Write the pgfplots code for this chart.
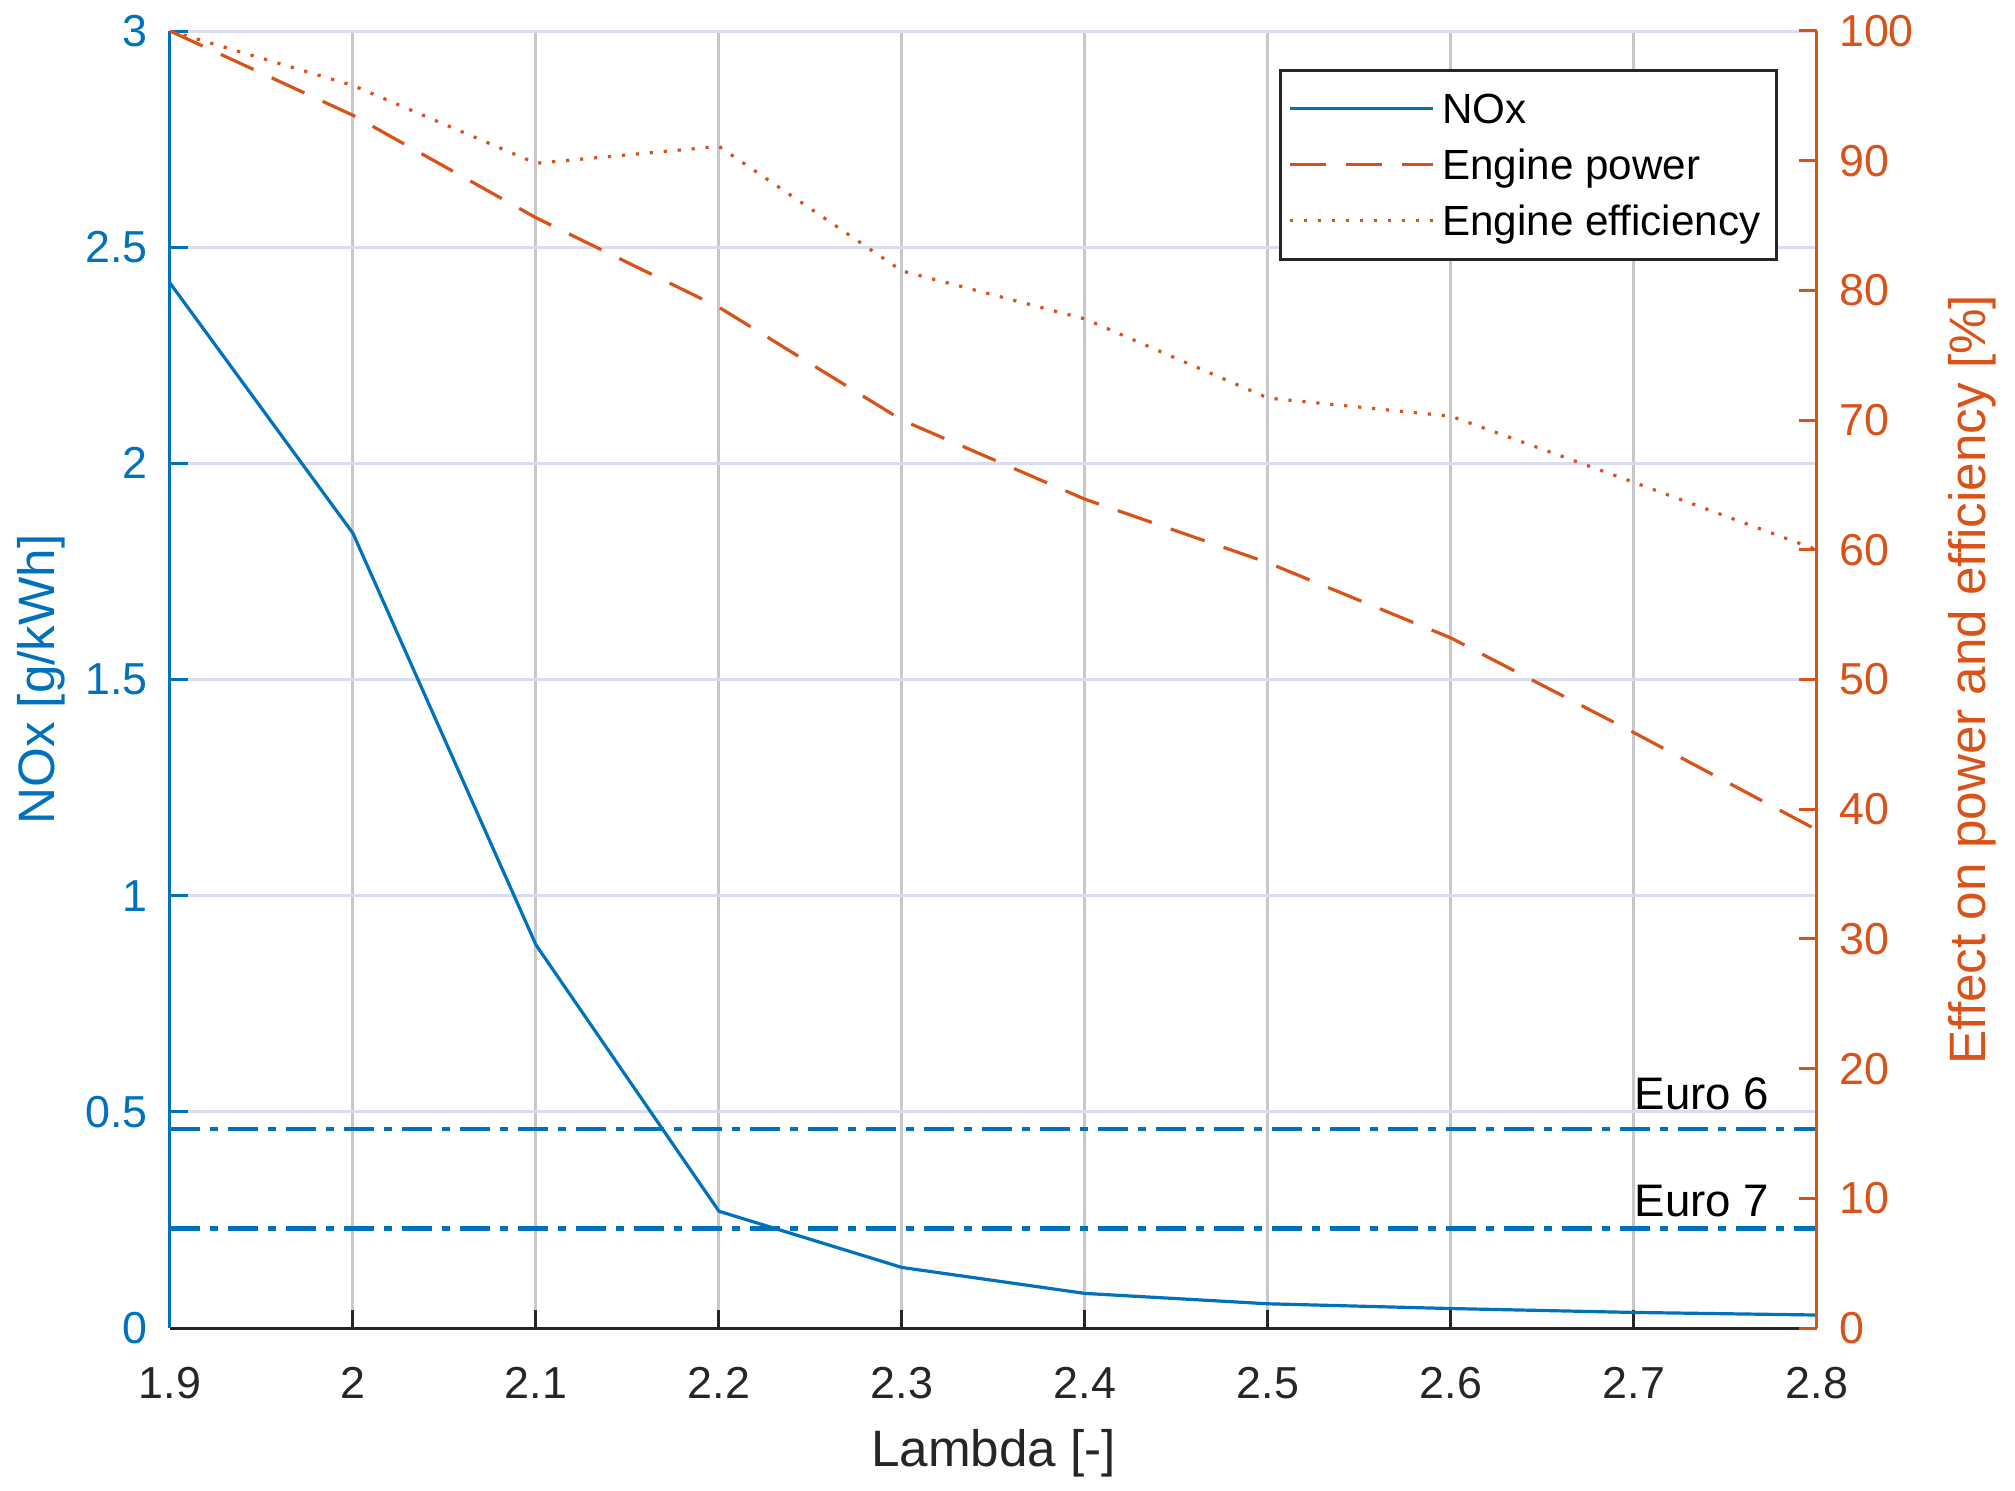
\documentclass[border=0pt]{standalone}
\usepackage{fontspec}
\setmainfont{Liberation Sans}
\usepackage{pgfplots}
\pgfplotsset{compat=1.18}
\definecolor{mblue}{RGB}{0,114,189}
\definecolor{morange}{RGB}{217,83,25}
\definecolor{hgrid}{RGB}{216,221,239}
\definecolor{vgrid}{RGB}{200,200,204}
\definecolor{axblack}{RGB}{38,38,38}
\begin{document}
\begin{tikzpicture}
\begin{axis}[
  at={(0,0)}, anchor=south west,
  scale only axis, width=411.75pt, height=324.25pt,
  xmin=1.9, xmax=2.8, ymin=0, ymax=3,
  xtick={1.9,2.0,2.1,2.2,2.3,2.4,2.5,2.6,2.7,2.8},
  xticklabels={1.9,2,2.1,2.2,2.3,2.4,2.5,2.6,2.7,2.8},
  ytick={0,0.5,1,1.5,2,2.5,3},
  yticklabels={0,0.5,1,1.5,2,2.5,3},
  axis x line*=bottom, axis y line*=left,
  x axis line style={-, color=axblack, line width=0.75pt},
  y axis line style={-, color=mblue, line width=0.75pt},
  tick align=inside, major tick length=4.5pt,
  x tick style={axblack, line width=0.75pt},
  y tick style={mblue, line width=0.75pt},
  xticklabel style={font=\fontsize{11.2}{13}\selectfont, color=axblack, yshift=-6.25pt},
  yticklabel style={font=\fontsize{11.2}{13}\selectfont, color=mblue, xshift=-2pt},
  xmajorgrids, ymajorgrids,
  x grid style={vgrid, line width=0.75pt},
  y grid style={hgrid, line width=0.75pt},
  xlabel={Lambda [-]},
  xlabel style={at={(axis description cs:0.5,-0.0779)}, anchor=north, inner sep=0pt, font=\fontsize{12.8}{15}\selectfont, color=axblack},
  ylabel={NOx [g/kWh]},
  ylabel style={at={(axis description cs:-0.0929,0.5)}, anchor=north, inner sep=0pt, font=\fontsize{12.8}{15}\selectfont, color=mblue},
]
\addplot[mblue, line width=0.8pt] coordinates {
 (1.9,2.417) (2.0,1.838) (2.1,0.886) (2.2,0.270) (2.3,0.140)
 (2.4,0.080) (2.5,0.056) (2.6,0.045) (2.7,0.036) (2.8,0.030)};
\addplot[mblue, line width=0.85pt, dash pattern=on 7.5pt off 2.5pt on 2pt off 2.5pt] coordinates {(1.9,0.46) (2.8,0.46)};
\addplot[mblue, line width=1.1pt, dash pattern=on 7.5pt off 2.5pt on 2pt off 2.5pt] coordinates {(1.9,0.23) (2.8,0.23)};
\node[anchor=base west, inner sep=0pt, font=\fontsize{11.4}{13}\selectfont] at (axis cs:2.7,0.506) {Euro 6};
\node[anchor=base west, inner sep=0pt, font=\fontsize{11.4}{13}\selectfont] at (axis cs:2.7,0.257) {Euro 7};
\end{axis}
\begin{axis}[
  at={(0,0)}, anchor=south west,
  scale only axis, width=411.75pt, height=324.25pt,
  xmin=1.9, xmax=2.8, ymin=0, ymax=100,
  ytick={0,10,20,30,40,50,60,70,80,90,100},
  yticklabels={0,10,20,30,40,50,60,70,80,90,100},
  axis x line=none, axis y line*=right,
  y axis line style={-, color=morange, line width=0.75pt},
  tick align=inside, major tick length=4.5pt,
  y tick style={morange, line width=0.75pt},
  yticklabel style={font=\fontsize{11.2}{13}\selectfont, color=morange, xshift=2pt},
  ylabel={Effect on power and efficiency [\%]},
  ylabel style={at={(axis description cs:1.0795,0.5)}, anchor=north, inner sep=0pt, font=\fontsize{12.8}{15}\selectfont, color=morange},
  legend cell align=left,
  legend image code/.code={\draw[#1] (0pt,0pt) -- (35.6pt,0pt);},
  legend style={at={(rel axis cs:0.9763,0.9707)}, anchor=north east,
    draw=axblack, line width=0.75pt, fill=white,
    font=\fontsize{10.55}{12}\selectfont, row sep=1.6pt,
    nodes={text height=7.8pt, text depth=0.6pt},
    inner xsep=2pt, inner ysep=3.4pt},
]
\addlegendimage{mblue, line width=0.8pt}
\addlegendentry{NOx}
\addplot[morange, line width=0.8pt, dash pattern=on 9pt off 5pt] coordinates {
 (1.9,100) (2.0,93.5) (2.1,85.6) (2.2,78.7) (2.3,70.0)
 (2.4,63.9) (2.5,59.0) (2.6,53.2) (2.7,45.9) (2.8,38.4)};
\addlegendentry{Engine power}
\addplot[morange, line width=0.8pt, dash pattern=on 0.8pt off 2.7pt] coordinates {
 (1.9,100) (2.0,95.8) (2.1,89.8) (2.2,91.1) (2.3,81.5)
 (2.4,77.8) (2.5,71.7) (2.6,70.3) (2.7,65.2) (2.8,60.0)};
\addlegendentry{Engine efficiency}
\end{axis}
\pgfresetboundingbox
\path (-42.5pt,-40.5pt) rectangle (461.25pt,332pt);
\end{tikzpicture}
\end{document}
